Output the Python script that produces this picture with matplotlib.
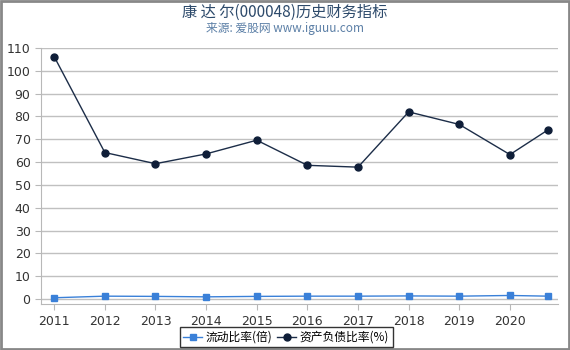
import matplotlib
matplotlib.use('Agg')
import matplotlib.pyplot as plt
from matplotlib.patches import Rectangle

plt.rcParams['font.family'] = ['DejaVu Sans', 'Noto Sans CJK SC']

# data
years = [2011, 2012, 2013, 2014, 2015, 2016, 2017, 2018, 2019, 2020, 2020.75]
current_ratio = [0.6, 1.3, 1.2, 1.0, 1.2, 1.3, 1.3, 1.4, 1.3, 1.6, 1.3]
debt_ratio = [106.2, 64.2, 59.3, 63.6, 69.6, 58.6, 57.8, 82.0, 76.5, 63.3, 74.1]
tick_years = [2011, 2012, 2013, 2014, 2015, 2016, 2017, 2018, 2019, 2020]
yticks = list(range(0, 111, 10))

fig = plt.figure(figsize=(5.7, 3.5), dpi=100)
ax = fig.add_axes([0.072, 0.131, 0.907, 0.732])

ax.plot(years, current_ratio, color='#3a80d8', lw=1.0, marker='s', ms=5,
        mfc='#3a80d8', mec='#3a80d8', label='流动比率(倍)', zorder=3)
ax.plot(years, debt_ratio, color='#1c2d48', lw=1.0, marker='o', ms=5,
        mfc='#0f1e38', mec='#0f1e38', label='资产负债比率(%)', zorder=3)

ax.set_xlim(2010.74, 2020.95)
ax.set_ylim(-2.2, 110)
ax.set_yticks(yticks)
ax.set_xticks(tick_years)
ax.set_xticklabels([str(y) for y in tick_years])
ax.grid(axis='y', color='#c0c0c0', lw=1.0)
ax.set_axisbelow(True)
for s in ['top', 'right']:
    ax.spines[s].set_visible(False)
for s in ['left', 'bottom']:
    ax.spines[s].set_color('#b8b8b8')
ax.tick_params(axis='both', colors='#b8b8b8', labelcolor='#333333',
               labelsize=9, length=4)

fig.text(0.5, 0.965, '康 达 尔(000048)历史财务指标', ha='center', va='center',
         fontsize=11, color='#2d4a6b', family=['Noto Sans CJK SC', 'DejaVu Sans'])
fig.text(0.5, 0.918, '来源: 爱股网 www.iguuu.com', ha='center', va='center',
         fontsize=8.5, color='#5b7fa6', family=['Noto Sans CJK SC', 'DejaVu Sans'])

leg = fig.legend(loc='center', bbox_to_anchor=(0.502, 0.966 - 0.93), ncol=2,
                 frameon=True, fancybox=False, fontsize=8.5, handlelength=1.6,
                 handletextpad=0.3, columnspacing=0.4, borderpad=0.3,
                 prop={'family': ['Noto Sans CJK SC', 'DejaVu Sans'], 'size': 8.5})
leg.get_frame().set_edgecolor('black')
leg.get_frame().set_linewidth(1.0)

# outer gray border
fig.patches.append(Rectangle((0.001, 0.002), 0.997, 0.996, transform=fig.transFigure,
                             fill=False, edgecolor='#888888', lw=2))

fig.savefig('out.png', dpi=100)
